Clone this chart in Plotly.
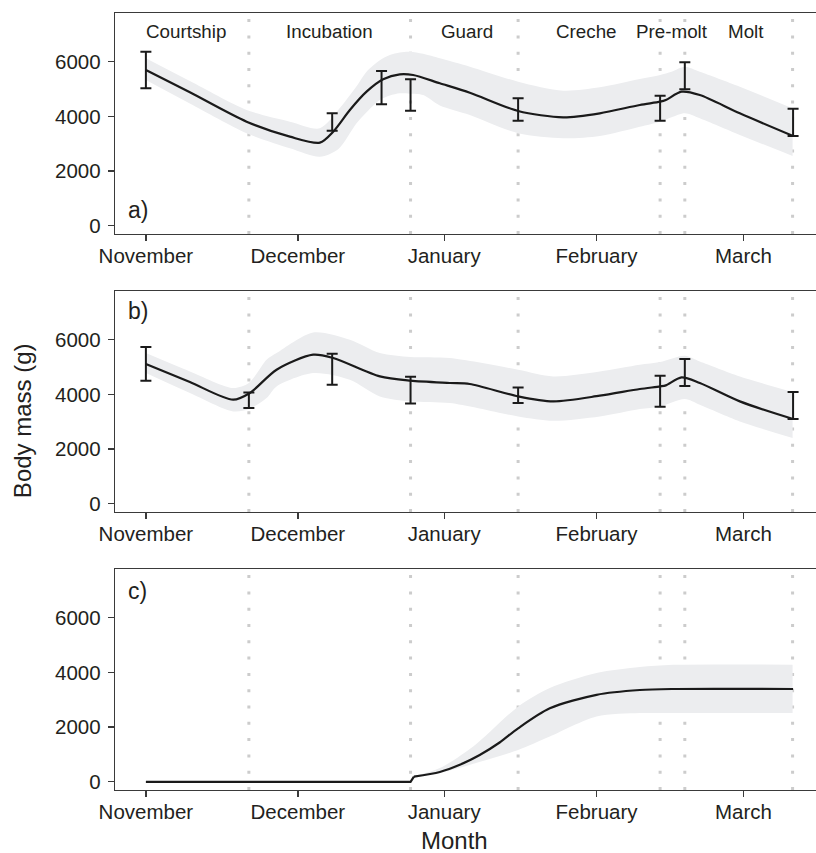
import plotly.graph_objects as go

# ---------------- data (x in days from start of November) ----------------
month_labels = ["November", "December", "January", "February", "March"]
month_ticks = [0, 30.5, 59.87, 90.45, 119.95]
y_ticks = [0, 2000, 4000, 6000]

phase_labels = ["Courtship", "Incubation", "Guard", "Creche", "Pre-molt", "Molt"]
phase_label_x = [8.09, 36.87, 64.46, 88.5, 105.5, 120.47]
phase_bounds = [20.67, 53.12, 74.71, 103.21, 108.17, 129.8]

panel_labels = ["a)", "b)", "c)"]

# panel a
a_line_x = [0, 8.83, 20.21, 28.90, 34.92, 37.59, 40.94, 44.29, 47.62, 50.97, 53.64, 59.00,
            65.02, 74.71, 83.75, 91.11, 99.14, 103.21, 104.36, 107.51, 111.18, 119.21, 129.90]
a_line_y = [5696, 4880, 3806, 3258, 3038, 3440, 4234, 4903, 5356, 5539, 5513, 5210,
            4866, 4197, 3967, 4113, 4417, 4537, 4599, 4903, 4782, 4113, 3283]
a_rib_x = [0, 8.83, 20.21, 28.90, 34.92, 38.6, 42.28, 44.29, 46.96, 48.97, 50.97, 52.98, 55.65,
           59.0, 65.02, 74.71, 83.75, 91.11, 99.14, 103.21, 105.5, 108.17, 111.18, 119.21, 129.8]
a_rib_hi = [6124, 5290, 4234, 3806, 3565, 4230, 5100, 5634, 6050, 6244, 6340, 6365, 6290,
            6124, 5817, 5269, 4940, 5064, 5367, 5513, 5634, 5817, 5634, 5086, 4296]
a_rib_lo = [5330, 4470, 3382, 2833, 2526, 2800, 3747, 4150, 4599, 4760, 4844, 4830, 4782,
            4400, 4051, 3382, 3199, 3283, 3623, 3806, 3967, 4113, 3930, 3320, 2552]
a_eb_x = [0, 37.39, 47.30, 53.12, 74.71, 103.21, 108.17, 129.90]
a_eb_lo = [5027, 3477, 4442, 4208, 3843, 3843, 4990, 3283]
a_eb_hi = [6365, 4113, 5659, 5356, 4661, 4757, 5978, 4281]

# panel b
b_line_x = [0, 8.83, 17.52, 20.87, 26.23, 33.57, 37.59, 46.96, 53.12, 61.01, 65.02, 74.71,
            81.74, 91.11, 99.14, 103.21, 104.36, 107.51, 111.18, 119.21, 129.90]
b_line_y = [5111, 4450, 3806, 4051, 4903, 5451, 5330, 4658, 4501, 4416, 4380, 3927,
            3744, 3952, 4197, 4292, 4330, 4621, 4416, 3744, 3100]
b_rib_x = [0, 8.83, 17.52, 20.67, 24.22, 26.23, 33.57, 40.94, 46.96, 53.12, 61.01, 74.71,
           81.74, 91.11, 99.14, 103.21, 108.17, 111.18, 119.21, 129.8]
b_rib_hi = [5513, 4840, 4234, 4416, 5269, 5513, 6267, 6000, 5513, 5367, 5330, 4903,
            4658, 4840, 5086, 5184, 5415, 5206, 4658, 4087]
b_rib_lo = [4782, 4051, 3378, 3466, 3868, 4292, 4782, 4537, 3926, 3744, 3685, 3196,
            3038, 3196, 3466, 3561, 3831, 3623, 3013, 2406]
b_eb_x = [0, 20.67, 37.39, 53.12, 74.71, 103.21, 108.17, 129.90]
b_eb_lo = [4501, 3502, 4354, 3671, 3685, 3550, 4307, 3100]
b_eb_hi = [5733, 4073, 5488, 4647, 4256, 4683, 5294, 4087]

# panel c
c_line_x = [0, 53.12, 53.8, 59.0, 63.0, 67.0, 71.0, 74.71, 81.07, 90.45, 99.14, 105.8, 129.9]
c_line_y = [0, 0, 186, 360, 620, 980, 1437, 1956, 2687, 3181, 3356, 3393, 3393]
c_rib_x = [53.8, 59.0, 65.7, 74.71, 81.07, 90.45, 99.14, 105.8, 129.8]
c_rib_hi = [200, 500, 1290, 2746, 3426, 3974, 4193, 4277, 4277]
c_rib_lo = [175, 318, 658, 1163, 1656, 2387, 2512, 2512, 2512]

# ---------------- styling ----------------
FONT = "Liberation Sans, Arial, Helvetica, sans-serif"
TXT = "#231f20"
AX = "#3a3a3a"
RIB = "#ecedef"
LINE = "#1a1a1a"
DOT = "#cccccc"
X_RANGE = [-6.2, 134.5]
Y_RANGE = [-300, 7780]

fig = go.Figure()

panels = [
    ("x", "y", a_line_x, a_line_y, a_rib_x, a_rib_hi, a_rib_lo, a_eb_x, a_eb_lo, a_eb_hi),
    ("x2", "y2", b_line_x, b_line_y, b_rib_x, b_rib_hi, b_rib_lo, b_eb_x, b_eb_lo, b_eb_hi),
    ("x3", "y3", c_line_x, c_line_y, c_rib_x, c_rib_hi, c_rib_lo, None, None, None),
]

for i, (xa, ya, lx, ly, rx, rhi, rlo, ex, elo, ehi) in enumerate(panels):
    # ribbon
    fig.add_trace(go.Scatter(x=rx, y=rhi, mode="lines", line=dict(width=0, shape="spline", smoothing=0.8),
                             xaxis=xa, yaxis=ya, hoverinfo="skip"))
    fig.add_trace(go.Scatter(x=rx, y=rlo, mode="lines", line=dict(width=0, shape="spline", smoothing=0.8),
                             fill="tonexty", fillcolor=RIB, xaxis=xa, yaxis=ya, hoverinfo="skip"))
    # line
    if i == 2:
        fig.add_trace(go.Scatter(x=lx[:3], y=ly[:3], mode="lines", line=dict(color=LINE, width=2.2),
                                 xaxis=xa, yaxis=ya))
        fig.add_trace(go.Scatter(x=lx[2:], y=ly[2:], mode="lines",
                                 line=dict(color=LINE, width=2.2, shape="spline", smoothing=0.8),
                                 xaxis=xa, yaxis=ya))
    else:
        fig.add_trace(go.Scatter(x=lx, y=ly, mode="lines",
                                 line=dict(color=LINE, width=2.2, shape="spline", smoothing=0.8),
                                 xaxis=xa, yaxis=ya))
    # error bars
    if ex is not None:
        mid = [(lo + hi) / 2 for lo, hi in zip(elo, ehi)]
        half = [(hi - lo) / 2 for lo, hi in zip(elo, ehi)]
        fig.add_trace(go.Scatter(x=ex, y=mid, mode="markers", marker=dict(size=1, opacity=0),
                                 error_y=dict(type="data", array=half, visible=True, color=LINE,
                                              thickness=2, width=5.5),
                                 xaxis=xa, yaxis=ya, hoverinfo="skip"))
    # phase boundaries (dotted)
    for b in phase_bounds:
        fig.add_shape(type="line", xref=xa, yref=f"{ya} domain", x0=b, x1=b, y0=0, y1=1,
                      layer="below", line=dict(color=DOT, width=3, dash="3px,13.3px"))
    # panel label
    fig.add_annotation(x=-4.0, y=[578, 7034, 6976][i], xref=xa, yref=ya, text=panel_labels[i],
                       showarrow=False, xanchor="left", yanchor="middle",
                       font=dict(family=FONT, size=23, color=TXT))

# phase labels on top panel
for lab, px in zip(phase_labels, phase_label_x):
    fig.add_annotation(x=px, y=7100, xref="x", yref="y", text=lab, showarrow=False,
                       xanchor="center", yanchor="middle", font=dict(family=FONT, size=18.8, color=TXT))

# axis titles
fig.add_annotation(x=-0.1327, y=0.476, xref="paper", yref="paper", text="Body mass (g)",
                   textangle=-90, showarrow=False, xanchor="center", yanchor="middle",
                   font=dict(family=FONT, size=24, color=TXT))
fig.add_annotation(x=0.485, y=-0.0656, xref="paper", yref="paper", text="Month",
                   showarrow=False, xanchor="center", yanchor="middle",
                   font=dict(family=FONT, size=24, color=TXT))

xcommon = dict(range=X_RANGE, tickmode="array", tickvals=month_ticks, ticktext=month_labels,
               showline=True, linecolor=AX, linewidth=1.3, mirror=True, ticks="outside",
               ticklen=6, tickwidth=1.3, tickcolor=AX, showgrid=False, zeroline=False,
               ticklabelstandoff=-3,
               tickfont=dict(family=FONT, size=20.5, color=TXT), fixedrange=True)
ycommon = dict(range=Y_RANGE, tickmode="array", tickvals=y_ticks, ticktext=[str(v) for v in y_ticks],
               showline=True, linecolor=AX, linewidth=1.3, ticks="outside", ticklen=6,
               tickwidth=1.3, tickcolor=AX, showgrid=False, zeroline=False,
               ticklabelstandoff=3,
               tickfont=dict(family=FONT, size=20.5, color=TXT), fixedrange=True)

fig.update_layout(
    width=816, height=853,
    margin=dict(l=115, r=0, t=13, b=63),
    plot_bgcolor="white", paper_bgcolor="white", showlegend=False,
    xaxis=dict(domain=[0, 1], anchor="y", **xcommon),
    yaxis=dict(domain=[0.7156, 1.0], anchor="x", **ycommon),
    xaxis2=dict(domain=[0, 1], anchor="y2", **xcommon),
    yaxis2=dict(domain=[0.3578, 0.6422], anchor="x2", **ycommon),
    xaxis3=dict(domain=[0, 1], anchor="y3", **xcommon),
    yaxis3=dict(domain=[0, 0.2844], anchor="x3", **ycommon),
)

fig.write_html("out.html",
               config={"displayModeBar": False, "staticPlot": True},
               post_script="document.body.style.margin='0px';document.body.style.padding='0px';"
                           "document.body.style.overflow='hidden';")
